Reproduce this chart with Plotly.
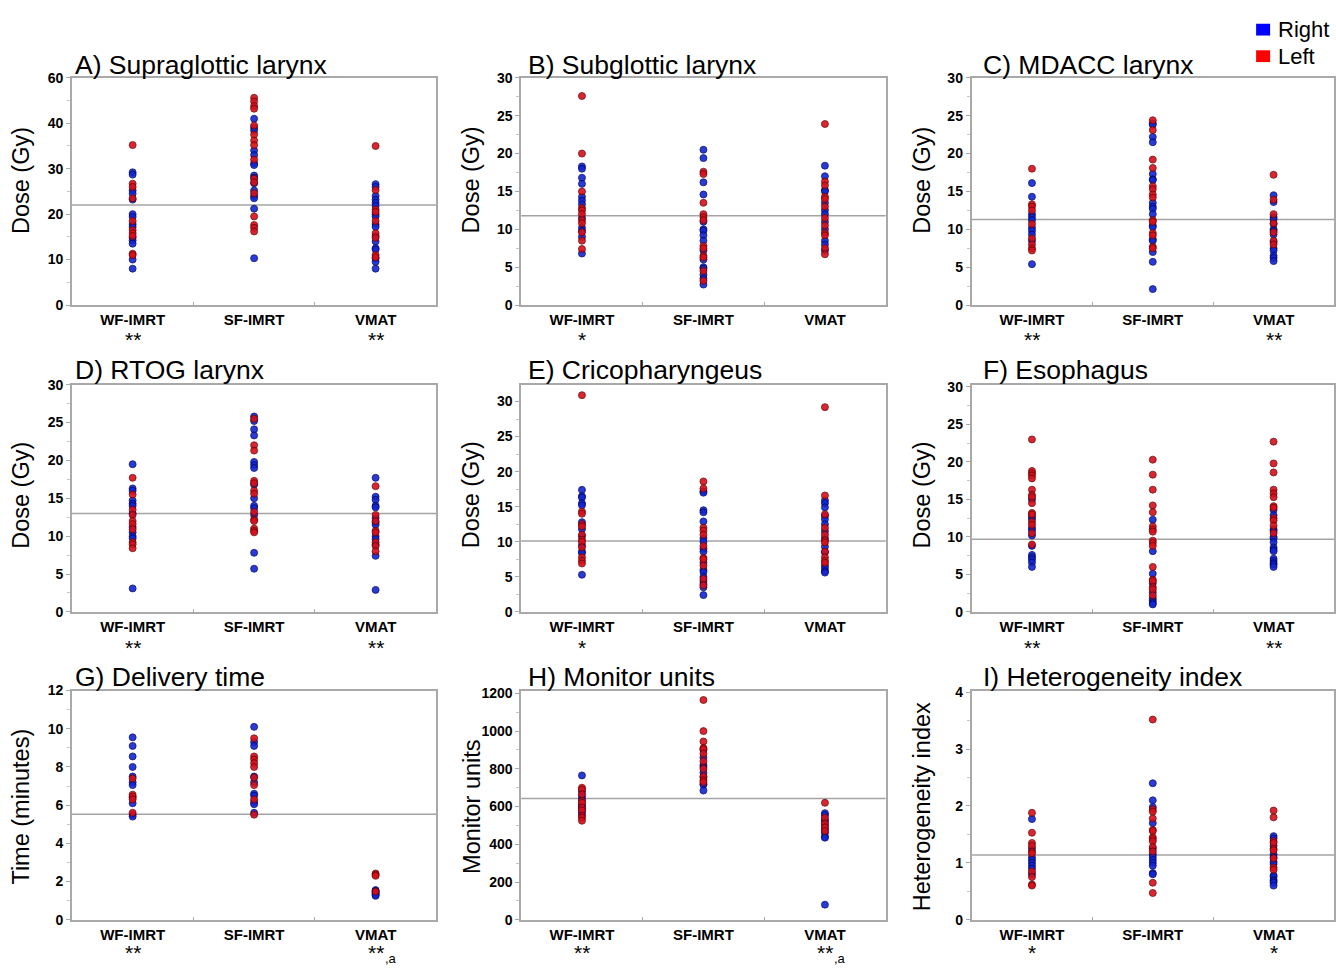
import plotly.graph_objects as go

W, H = 1336, 971


def px(xp):
    return min(1.0, max(0.0, xp / W))


def py(yp):
    return min(1.0, max(0.0, 1 - yp / H))


categories = ["WF-IMRT", "SF-IMRT", "VMAT"]

titles = ["A) Supraglottic larynx", "B) Subglottic larynx", "C) MDACC larynx",
          "D) RTOG larynx", "E) Cricopharyngeus", "F) Esophagus",
          "G) Delivery time", "H) Monitor units", "I) Heterogeneity index"]

y_titles = ["Dose (Gy)", "Dose (Gy)", "Dose (Gy)",
            "Dose (Gy)", "Dose (Gy)", "Dose (Gy)",
            "Time (minutes)", "Monitor units", "Heterogeneity index"]

sig_stars = [["**", "", "**"], ["*", "", ""], ["**", "", "**"],
             ["**", "", "**"], ["*", "", ""], ["**", "", "**"],
             ["**", "", "**"], ["**", "", "**"], ["*", "", "*"]]
sig_note = [["", "", ""], ["", "", ""], ["", "", ""],
            ["", "", ""], ["", "", ""], ["", "", ""],
            ["", "", ",a"], ["", "", ",a"], ["", "", ""]]

mean_values = [22.0, 11.8, 11.3, 13.0, 10.1, 9.7, 5.52, 643, 1.14]

# ---- Data: per panel, [WF-IMRT, SF-IMRT, VMAT] ----
A_right = [[29.2, 28.7, 25.2, 24.5, 23.2, 20.0, 19.4, 17.8, 17.2, 14.8, 14.2, 13.5, 10.0, 8.0],
           [41.0, 39.0, 38.4, 34.0, 33.0, 31.2, 30.8, 28.5, 28.0, 26.8, 25.2, 24.0, 23.5, 21.2, 10.3],
           [26.6, 26.0, 24.0, 23.2, 22.5, 21.8, 20.0, 19.5, 17.8, 17.2, 15.2, 14.0, 12.5, 12.2, 10.2, 9.5, 8.0]]
A_left = [[35.2, 26.7, 26.0, 23.5, 18.5, 16.5, 15.8, 15.2, 11.3, 11.0],
          [45.6, 44.8, 43.8, 43.2, 39.5, 37.5, 36.2, 35.2, 32.0, 27.8, 27.0, 24.6, 19.5, 17.6, 17.0, 16.2],
          [35.0, 25.3, 21.0, 20.5, 18.5, 15.8, 14.8, 11.0, 10.5]]

B_right = [[18.3, 18.0, 16.8, 16.0, 14.3, 13.8, 13.3, 11.5, 10.2, 9.8, 9.0, 6.8],
           [20.5, 19.4, 16.2, 14.6, 11.0, 10.0, 9.8, 9.2, 8.5, 7.2, 6.0, 5.0, 4.8, 4.0, 3.5, 2.7],
           [18.4, 17.0, 15.2, 15.0, 13.5, 12.5, 12.0, 11.0, 10.0, 8.5, 8.0, 7.2]]
B_left = [[27.6, 20.0, 15.0, 12.8, 12.5, 12.0, 11.2, 10.8, 9.6, 8.5, 7.4],
          [17.6, 17.3, 13.5, 12.0, 11.6, 11.2, 7.8, 7.5, 6.5, 6.3, 4.5, 3.2],
          [23.9, 16.3, 15.8, 14.3, 14.0, 13.0, 11.5, 10.5, 9.5, 9.2, 7.5, 6.7]]

C_right = [[16.1, 14.3, 12.0, 11.6, 11.2, 10.2, 9.8, 9.3, 8.5, 5.4],
           [24.0, 23.8, 22.2, 21.5, 17.3, 16.6, 16.5, 13.5, 13.0, 12.7, 12.0, 10.5, 10.3, 8.7, 8.5, 7.0, 5.7, 2.1],
           [14.5, 13.6, 11.6, 11.3, 10.7, 10.0, 9.8, 9.3, 8.3, 7.5, 7.2, 6.5, 6.2, 5.8]]
C_left = [[18.0, 13.3, 13.0, 12.5, 10.7, 8.8, 8.0, 7.5, 7.2],
          [24.4, 23.1, 19.2, 18.1, 15.7, 15.3, 14.6, 14.2, 11.2, 11.0, 9.5, 9.2, 7.7, 7.5],
          [17.2, 13.9, 12.0, 10.8, 9.6, 8.5, 8.0]]

D_right = [[19.5, 16.3, 16.0, 14.7, 14.3, 14.0, 13.0, 11.2, 10.5, 10.0, 9.7, 3.1],
           [25.8, 25.2, 24.1, 23.3, 19.8, 19.4, 19.0, 16.8, 15.0, 14.0, 13.7, 12.8, 7.8, 5.7],
           [17.7, 15.2, 14.8, 14.0, 13.8, 12.4, 11.8, 11.5, 10.0, 9.6, 8.9, 7.4, 2.9]]
D_left = [[17.7, 15.5, 13.5, 12.8, 12.0, 11.6, 10.9, 9.2, 8.9, 8.4],
          [25.5, 22.0, 21.3, 17.3, 17.0, 16.0, 15.6, 13.2, 12.2, 12.0, 11.0, 10.7, 10.5],
          [16.6, 12.8, 12.0, 10.7, 10.5, 9.2, 8.7, 8.0]]

E_right = [[17.4, 16.5, 16.3, 15.5, 15.2, 12.8, 11.8, 10.8, 9.5, 8.6, 8.4, 5.3],
           [17.2, 17.0, 14.5, 14.2, 12.9, 10.5, 10.0, 9.0, 8.6, 7.0, 6.0, 5.7, 5.0, 4.4, 4.0, 3.5, 2.4],
           [15.9, 15.5, 14.9, 13.7, 13.2, 12.5, 11.5, 10.5, 9.3, 8.5, 6.6, 6.2, 5.8, 5.6]]
E_left = [[30.9, 14.3, 14.0, 12.5, 12.2, 11.0, 10.3, 10.0, 9.2, 7.8, 7.3, 6.9],
          [18.6, 17.6, 12.0, 11.6, 11.0, 9.4, 7.7, 7.5, 6.6, 4.7, 3.8],
          [29.2, 16.6, 13.9, 12.0, 11.0, 10.2, 9.9, 8.6, 7.8, 7.3, 7.0]]

F_right = [[15.0, 12.7, 12.4, 11.2, 10.9, 10.2, 8.8, 7.6, 7.3, 7.0, 6.6, 6.0],
           [12.3, 8.1, 5.1, 3.8, 2.6, 1.8, 1.5, 1.2, 1.0],
           [13.6, 12.9, 11.0, 10.8, 10.0, 9.8, 9.3, 8.6, 8.3, 8.1, 7.1, 6.8, 6.5, 6.3, 6.0]]
F_left = [[23.0, 18.8, 18.5, 18.2, 17.8, 16.3, 15.6, 15.3, 14.5, 13.2, 13.0, 12.0, 11.6, 10.5, 9.0],
          [20.3, 18.3, 16.3, 14.2, 13.3, 11.4, 11.0, 10.7, 9.5, 9.2, 8.8, 6.0, 4.3, 4.1, 3.3, 3.0, 2.2],
          [22.7, 19.8, 18.6, 16.3, 15.8, 15.3, 14.1, 13.9, 12.5, 12.2, 11.5, 10.5]]

G_right = [[9.55, 9.1, 8.55, 8.0, 7.5, 7.2, 7.05, 6.4, 6.1, 5.5, 5.4],
           [10.1, 9.3, 9.1, 7.5, 7.2, 6.6, 6.5, 6.15, 6.05, 5.6],
           [1.55, 1.5, 1.45, 1.4, 1.35, 1.3, 1.25]]
G_left = [[7.4, 6.55, 6.45, 6.3, 5.6],
          [9.5, 8.55, 8.4, 8.2, 8.0, 7.45, 7.05, 6.3, 5.5],
          [2.42, 2.36, 2.3, 1.48]]

H_right = [[765, 680, 655, 640, 610, 600, 590, 575, 560],
           [900, 860, 820, 810, 780, 755, 720, 715, 685],
           [565, 555, 530, 520, 500, 480, 460, 440, 435, 80]]
H_left = [[700, 690, 665, 630, 620, 595, 580, 550, 540, 525],
          [1165, 1000, 945, 910, 905, 880, 840, 800, 760, 740, 730],
          [620, 540, 510, 490, 470]]

I_right = [[1.77, 1.25, 1.1, 1.05, 1.0, 0.95, 0.9, 0.8],
           [2.4, 2.1, 1.98, 1.7, 1.25, 1.15, 1.1, 1.05, 1.0, 0.95, 0.82, 0.8],
           [1.47, 1.43, 1.3, 1.15, 1.1, 1.02, 0.98, 0.78, 0.75, 0.7, 0.68, 0.65, 0.6]]
I_left = [[1.88, 1.53, 1.35, 1.3, 1.2, 1.17, 0.85, 0.75, 0.62, 0.6],
          [3.52, 1.94, 1.9, 1.78, 1.58, 1.56, 1.45, 1.42, 1.38, 1.28, 1.2, 0.65, 0.47],
          [1.92, 1.8, 1.38, 1.35, 1.25, 1.22, 1.08, 0.92, 0.88]]

panels_right = [A_right, B_right, C_right, D_right, E_right, F_right, G_right, H_right, I_right]
panels_left = [A_left, B_left, C_left, D_left, E_left, F_left, G_left, H_left, I_left]

# y axis setups
y_ranges = [[0, 50], [0, 30], [0, 30], [0, 30], [0, 32.4], [0, 30.3], [0, 12], [0, 1215], [0, 4.03]]
y_tickvals = [[0, 10, 20, 30, 40, 50], None, None, None, None, None, None, None, None]
y_ticktext = [["0", "10", "20", "30", "40", "60"], None, None, None, None, None, None, None, None]
y_dtick = [10, 5, 5, 5, 5, 5, 2, 200, 1]
y_minor = [5, 2.5, 2.5, 2.5, 2.5, 2.5, 1, 100, 0.5]

# layout geometry (pixels in the browser window)
col_x = [(72, 437), (522, 887), (973, 1336)]
row_y = [(71, 302), (383, 614), (694, 927)]
title_x = [73, 527, 982]
title_cy = [58, 368, 680]
ytitle_x = [21, 472, 923]
ytitle_cy = [175, 495, 812]
stars_cy = [337, 650, 960]

BLUE = "#1226d2"
BLUE_EDGE = "#000060"
RED = "#d80f1c"
RED_EDGE = "#600000"
FRAME = "#a9a9a9"
FONT = "Liberation Sans, Arial"

fig = go.Figure()
annotations = []
shapes = []

for i in range(9):
    r, c = divmod(i, 3)
    n = i + 1
    xa = "x" if n == 1 else f"x{n}"
    ya = "y" if n == 1 else f"y{n}"
    x0, x1 = col_x[c]
    y0, y1 = row_y[r]

    for side_vals, col, edge in ((panels_right[i], BLUE, BLUE_EDGE), (panels_left[i], RED, RED_EDGE)):
        xs, ys = [], []
        for k, vals in enumerate(side_vals):
            xs += [k] * len(vals)
            ys += vals
        fig.add_trace(go.Scatter(
            x=xs, y=ys, mode="markers", xaxis=xa, yaxis=ya, showlegend=False,
            marker=dict(size=7, color=col, opacity=0.9, line=dict(color=edge, width=0.8)),
        ))

    xkey = "xaxis" if n == 1 else f"xaxis{n}"
    ykey = "yaxis" if n == 1 else f"yaxis{n}"
    fig.update_layout({
        xkey: dict(
            domain=[px(x0), px(x1)], anchor=ya, range=[-0.5, 2.5],
            tickmode="array", tickvals=[0, 1, 2], ticktext=[f"<b>{cat}</b>" for cat in categories],
            ticks="", showgrid=False, zeroline=False,
            showline=True, mirror=True, linecolor=FRAME, linewidth=1.6,
            tickfont=dict(family=FONT, size=15, color="black"),
            minor=dict(tickmode="array", tickvals=[0.5, 1.5], ticks="inside", ticklen=3,
                       tickcolor=FRAME, showgrid=False),
            fixedrange=True,
        ),
        ykey: dict(
            domain=[py(y1), py(y0)], anchor=xa, range=y_ranges[i],
            showgrid=False, zeroline=False,
            showline=True, mirror=True, linecolor=FRAME, linewidth=1.6,
            ticks="outside", ticklen=4, tickcolor=FRAME,
            tickfont=dict(family=FONT, size=14, color="black", weight="bold"),
            minor=dict(ticks="outside", ticklen=3, tickcolor="#c8c8c8", dtick=y_minor[i], showgrid=False),
            fixedrange=True,
        ),
    })
    if y_tickvals[i] is not None:
        fig.update_layout({ykey: dict(tickmode="array", tickvals=y_tickvals[i], ticktext=y_ticktext[i])})
    else:
        fig.update_layout({ykey: dict(dtick=y_dtick[i], tick0=0)})

    # mean line
    shapes.append(dict(type="line", xref=f"{xa} domain", yref=ya, x0=0, x1=1,
                       y0=mean_values[i], y1=mean_values[i],
                       line=dict(color="#a4a4a4", width=1.5), layer="below"))

    # significance markers under the category labels
    for k in range(3):
        if sig_stars[i][k]:
            annotations.append(dict(text=sig_stars[i][k], xref=xa, yref="paper", x=k, y=py(stars_cy[r]),
                                    xanchor="center", yanchor="middle", showarrow=False,
                                    font=dict(family=FONT, size=21, color="black")))
        if sig_note[i][k]:
            annotations.append(dict(text=sig_note[i][k], xref=xa, yref="paper", x=k, y=py(stars_cy[r] + 6),
                                    xanchor="left", yanchor="middle", xshift=7, showarrow=False,
                                    font=dict(family=FONT, size=13, color="black")))

    annotations.append(dict(text=titles[i], xref="paper", yref="paper",
                            x=px(title_x[c]), y=py(title_cy[r]), xanchor="left", yanchor="middle",
                            showarrow=False, font=dict(family=FONT, size=26.5, color="black")))
    annotations.append(dict(text=y_titles[i], xref="paper", yref="paper", textangle=-90,
                            x=px(ytitle_x[c]), y=py(ytitle_cy[r]), xanchor="center", yanchor="middle",
                            showarrow=False, font=dict(family=FONT, size=23.5, color="black")))

# legend (Right / Left)
legend_names = ["Right", "Left"]
legend_colors = ["#0000ff", "#ff0000"]
legend_cy = [22, 49]
for name, colr, cy in zip(legend_names, legend_colors, legend_cy):
    shapes.append(dict(type="rect", xref="paper", yref="paper",
                       x0=px(1258), x1=px(1272), y0=py(cy + 6), y1=py(cy - 6),
                       fillcolor=colr, line=dict(width=0)))
    annotations.append(dict(text=name, xref="paper", yref="paper", x=px(1278), y=py(cy),
                            xanchor="left", yanchor="middle", showarrow=False,
                            font=dict(family=FONT, size=22, color="black")))

fig.update_layout(
    width=W, height=H, margin=dict(l=0, r=0, t=0, b=0),
    paper_bgcolor="white", plot_bgcolor="white",
    annotations=annotations, shapes=shapes, showlegend=False,
)

fig.write_html("out.html", config={"displayModeBar": False},
               post_script="document.body.style.margin='0px';document.body.style.overflow='hidden';")
